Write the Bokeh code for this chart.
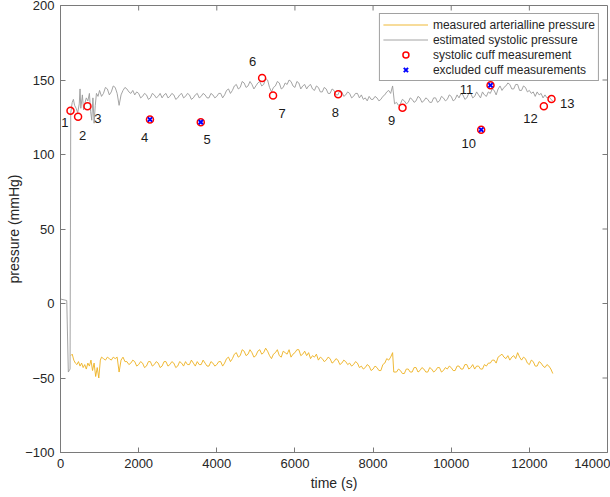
from bokeh.plotting import figure
from bokeh.models import Range1d, FixedTicker, Legend, LegendItem, ColumnDataSource
from bokeh.core.properties import value
from bokeh.embed import file_html
from bokeh.resources import INLINE

# ---------------- data ----------------
sys_t = [0, 160, 200, 245, 262, 300, 330, 360, 400, 440, 480, 500, 520, 560, 590, 620, 660,
         700, 740, 770, 800, 830, 860, 890, 920, 960,
         1000, 1050, 1100, 1150, 1200, 1250, 1300, 1350, 1400, 1450, 1500, 1550, 1600, 1650, 1700, 1750, 1800, 1850, 1900, 1950,
         2000, 2050, 2100, 2150, 2200, 2250, 2300, 2350, 2400, 2450, 2500, 2550, 2600, 2650, 2700, 2750, 2800, 2850, 2900, 2950,
         3000, 3050, 3100, 3150, 3200, 3250, 3300, 3350, 3400, 3450, 3500, 3550, 3600, 3650, 3700, 3750, 3800, 3850, 3900, 3950,
         4000, 4050, 4100, 4150, 4200, 4250, 4300, 4350, 4400, 4450, 4500, 4550, 4600, 4650, 4700, 4750, 4800, 4850, 4900, 4950,
         5000, 5050, 5100, 5150, 5200, 5250, 5300, 5350, 5400, 5450, 5500, 5550, 5600, 5650, 5700, 5750, 5800, 5850, 5900, 5950,
         6000, 6050, 6100, 6150, 6200, 6250, 6300, 6350, 6400, 6450, 6500, 6550, 6600, 6650, 6700, 6750, 6800, 6850, 6900, 6950,
         7000, 7050, 7100, 7150, 7200, 7250, 7300, 7350, 7400, 7450, 7500, 7550, 7600, 7650, 7700, 7750, 7800, 7850, 7900, 7950,
         8000, 8050, 8100, 8150, 8200, 8250, 8300, 8350, 8400, 8450, 8500, 8550, 8600, 8650, 8700, 8750, 8800, 8850, 8900, 8950,
         9000, 9050, 9100, 9150, 9200, 9250, 9300, 9350, 9400, 9450, 9500, 9550, 9600, 9650, 9700, 9750, 9800, 9850, 9900, 9950,
         10000, 10050, 10100, 10150, 10200, 10250, 10300, 10350, 10400, 10450, 10500, 10550, 10600, 10650, 10700, 10750, 10800, 10850, 10900, 10950,
         11000, 11050, 11100, 11150, 11200, 11250, 11300, 11350, 11400, 11450, 11500, 11550, 11600, 11650, 11700, 11750, 11800, 11850, 11900, 11950,
         12000, 12050, 12100, 12150, 12200, 12250, 12300, 12350, 12400, 12450, 12500, 12550, 12600]
sys_v = [3, 2, -46, -44, 128, 135, 137, 133, 131, 128, 134, 144, 131, 140, 130, 134, 138,
         136, 141, 129, 123, 138, 121, 133, 141, 139,
         143, 139, 141, 145, 144, 140, 142, 146, 145, 141, 133, 140, 143, 145, 144, 142, 141, 143, 140, 142,
         141, 138, 139, 141, 140, 137, 138, 141, 140, 138, 139, 141, 138, 140, 141, 138, 139, 141, 140, 137,
         138, 140, 141, 138, 139, 141, 140, 137, 138, 140, 141, 138, 139, 141, 140, 138, 138, 141, 140, 138,
         139, 141, 141, 138, 140, 143, 144, 141, 143, 146, 147, 144, 145, 149, 148, 145, 146, 149, 147, 144,
         146, 148, 149, 146, 147, 151, 150, 145, 142, 145, 146, 149, 148, 144, 145, 148, 147, 150, 149, 146,
         145, 149, 148, 144, 146, 147, 144, 146, 147, 144, 143, 146, 145, 142, 142, 145, 144, 141, 141, 144,
         143, 140, 140, 143, 142, 139, 140, 142, 141, 138, 139, 141, 141, 138, 140, 137, 138, 136, 139, 137,
         137, 139, 138, 136, 137, 139, 140, 142, 143, 141, 146, 134, 135, 133, 134, 137, 136, 134, 135, 138,
         137, 135, 136, 139, 138, 135, 136, 138, 137, 135, 135, 138, 138, 135, 136, 139, 138, 136, 137, 140,
         139, 136, 137, 140, 138, 141, 140, 137, 138, 141, 141, 138, 139, 142, 140, 138, 142, 140, 139, 142,
         141, 144, 143, 140, 144, 146, 143, 145, 146, 148, 147, 144, 144, 147, 147, 143, 143, 146, 145, 142,
         143, 141, 142, 139, 142, 140, 141, 138, 140, 138, 139, 137, 136]

art_t = [262, 300, 340, 380, 420, 460, 500, 540, 580, 620, 660, 700, 740, 780, 820, 860, 900, 940, 980,
         1020, 1050, 1100, 1150, 1200, 1250, 1300, 1350, 1400, 1450, 1500, 1550, 1600, 1650, 1700, 1750, 1800, 1850, 1900, 1950,
         2000, 2050, 2100, 2150, 2200, 2250, 2300, 2350, 2400, 2450, 2500, 2550, 2600, 2650, 2700, 2750, 2800, 2850, 2900, 2950,
         3000, 3050, 3100, 3150, 3200, 3250, 3300, 3350, 3400, 3450, 3500, 3550, 3600, 3650, 3700, 3750, 3800, 3850, 3900, 3950,
         4000, 4050, 4100, 4150, 4200, 4250, 4300, 4350, 4400, 4450, 4500, 4550, 4600, 4650, 4700, 4750, 4800, 4850, 4900, 4950,
         5000, 5050, 5100, 5150, 5200, 5250, 5300, 5350, 5400, 5450, 5500, 5550, 5600, 5650, 5700, 5750, 5800, 5850, 5900, 5950,
         6000, 6050, 6100, 6150, 6200, 6250, 6300, 6350, 6400, 6450, 6500, 6550, 6600, 6650, 6700, 6750, 6800, 6850, 6900, 6950,
         7000, 7050, 7100, 7150, 7200, 7250, 7300, 7350, 7400, 7450, 7500, 7550, 7600, 7650, 7700, 7750, 7800, 7850, 7900, 7950,
         8000, 8050, 8100, 8150, 8200, 8250, 8300, 8350, 8400, 8450, 8500, 8530, 8600, 8650, 8700, 8750, 8800, 8850, 8900, 8950,
         9000, 9050, 9100, 9150, 9200, 9250, 9300, 9350, 9400, 9450, 9500, 9550, 9600, 9650, 9700, 9750, 9800, 9850, 9900, 9950,
         10000, 10050, 10100, 10150, 10200, 10250, 10300, 10350, 10400, 10450, 10500, 10550, 10600, 10650, 10700, 10750, 10800, 10850, 10900, 10950,
         11000, 11050, 11100, 11150, 11200, 11250, 11300, 11350, 11400, 11450, 11500, 11550, 11600, 11650, 11700, 11750, 11800, 11850, 11900, 11950,
         12000, 12050, 12100, 12150, 12200, 12250, 12300, 12350, 12400, 12450, 12500, 12550, 12600]
art_v = [-35, -34, -38, -40, -41, -39, -42, -40, -43, -41, -44, -40, -42, -38, -45, -40, -49, -43, -50,
         -38, -36, -37, -38, -36, -37, -38, -36, -37, -36, -46, -38, -36, -39, -39, -41, -40, -38, -39, -42,
         -41, -39, -40, -43, -42, -39, -39, -42, -41, -39, -40, -43, -42, -39, -39, -42, -41, -39, -40, -43,
         -42, -39, -40, -42, -39, -41, -41, -38, -40, -42, -39, -41, -41, -38, -40, -42, -42, -39, -40, -42,
         -41, -39, -39, -42, -40, -37, -36, -39, -37, -34, -33, -36, -35, -31, -32, -35, -34, -31, -33, -36,
         -35, -32, -31, -34, -33, -30, -32, -35, -37, -34, -33, -31, -35, -36, -32, -33, -34, -31, -36, -34,
         -33, -31, -31, -35, -34, -32, -35, -33, -37, -35, -36, -34, -38, -36, -37, -39, -38, -36, -37, -40,
         -39, -37, -38, -41, -40, -38, -39, -41, -40, -42, -41, -39, -40, -43, -42, -44, -43, -41, -42, -45,
         -44, -42, -43, -45, -45, -41, -40, -37, -38, -36, -33, -46, -46, -44, -45, -47, -47, -44, -44, -46,
         -46, -43, -43, -46, -45, -43, -44, -46, -46, -43, -44, -46, -45, -43, -43, -46, -45, -43, -44, -42,
         -43, -45, -45, -42, -42, -44, -44, -41, -41, -44, -43, -41, -44, -42, -42, -44, -44, -41, -42, -40,
         -40, -38, -38, -40, -36, -35, -34, -36, -37, -35, -38, -36, -35, -37, -33, -36, -38, -36, -37, -40,
         -41, -38, -39, -42, -42, -39, -40, -42, -43, -41, -42, -44, -47]

cuff_t = [256, 450, 690, 2290, 3590, 5160, 5440, 7107, 8754, 10767, 11006, 12371, 12567]
cuff_v = [129.3, 125.3, 132.4, 123.5, 121.7, 151.3, 139.6, 140.5, 131.3, 116.6, 146.5, 132.4, 137.3]
cuff_labels = ["1", "2", "3", "4", "5", "6", "7", "8", "9", "10", "11", "12", "13"]
excluded_idx = [3, 4, 9, 10]

x_ticks = [0, 2000, 4000, 6000, 8000, 10000, 12000, 14000]
y_ticks = [-100, -50, 0, 50, 100, 150, 200]

# label offsets in screen pixels (style)
lbl_dx = [-5.7, 4.6, 10.3, -5.3, 6.4, -9.4, 9, -2.7, -11, -12.4, -24, -13.3, 15.7]
lbl_dy = [11.4, 18.7, 12, 18.3, 17.3, -16.7, 18.3, 18, 12.7, 13.4, 4.6, 12.6, 4.4]

FONT = "Liberation Sans"
AXC = "#7a7a7a"
TXT = "#262626"

p = figure(width=610, height=497, x_range=Range1d(0, 14000), y_range=Range1d(-100, 200),
           output_backend="svg", toolbar_location=None,
           min_border_left=60, min_border_right=3, min_border_top=5, min_border_bottom=45)
p.xgrid.visible = False
p.ygrid.visible = False
p.outline_line_color = AXC
p.background_fill_color = "white"

p.xaxis.ticker = FixedTicker(ticks=x_ticks)
p.yaxis.ticker = FixedTicker(ticks=y_ticks)
for ax in (p.xaxis[0], p.yaxis[0]):
    ax.axis_line_color = AXC
    ax.major_tick_line_color = AXC
    ax.major_tick_in = 5
    ax.major_tick_out = 0
    ax.minor_tick_line_color = None
    ax.major_label_text_font = FONT
    ax.major_label_text_font_size = "13px"
    ax.major_label_text_color = TXT
    ax.axis_label_text_font = FONT
    ax.axis_label_text_font_size = "14px"
    ax.axis_label_text_font_style = "normal"
    ax.axis_label_text_color = TXT
    ax.major_label_standoff = 6
p.yaxis.axis_label_standoff = 0
p.xaxis.axis_label_standoff = 4
p.xaxis.axis_label = "time (s)"
p.yaxis.axis_label = "pressure (mmHg)"

# box ticks on top and right (inward)
p.ray(x=x_ticks[1:-1], y=[200] * (len(x_ticks) - 2), length=5, length_units="screen",
      angle=-90, angle_units="deg", line_color=AXC, line_width=1)
p.ray(x=[14000] * (len(y_ticks) - 2), y=y_ticks[1:-1], length=5, length_units="screen",
      angle=180, angle_units="deg", line_color=AXC, line_width=1)

r_art = p.line(art_t, art_v, line_color="#EDB120", line_width=0.9)
r_sys = p.line(sys_t, sys_v, line_color="#9a9a9a", line_width=0.9)
r_cuff = p.scatter(cuff_t, cuff_v, marker="circle", size=7, fill_color=None,
                   line_color="#ff0000", line_width=1.5)
ex_t = [cuff_t[i] for i in excluded_idx]
ex_v = [cuff_v[i] for i in excluded_idx]
r_ex = p.scatter(ex_t, ex_v, marker="x", size=6, line_color="#0000ff", line_width=2)

src = ColumnDataSource(dict(t=cuff_t, v=cuff_v, lbl=cuff_labels, dx=lbl_dx, dy=lbl_dy))
p.text(x="t", y="v", text="lbl", x_offset="dx", y_offset="dy", source=src,
       text_align="center", text_baseline="middle", text_font=value(FONT),
       text_font_size="13px", text_color="#1a1a1a")

legend = Legend(items=[
    LegendItem(label="measured arterialline pressure", renderers=[r_art]),
    LegendItem(label="estimated systolic pressure", renderers=[r_sys]),
    LegendItem(label="systolic cuff measurement", renderers=[r_cuff]),
    LegendItem(label="excluded cuff measurements", renderers=[r_ex]),
], location="top_right")
legend.margin = 8
legend.padding = 3
legend.spacing = 0
legend.label_height = 15
legend.glyph_height = 15
legend.glyph_width = 45
legend.label_standoff = 5
legend.label_text_font = FONT
legend.label_text_font_size = "12px"
legend.label_text_color = TXT
legend.border_line_color = "#444444"
legend.border_line_width = 1
legend.background_fill_alpha = 1
p.add_layout(legend, "center")

open("out.html", "w").write(file_html(p, INLINE))
